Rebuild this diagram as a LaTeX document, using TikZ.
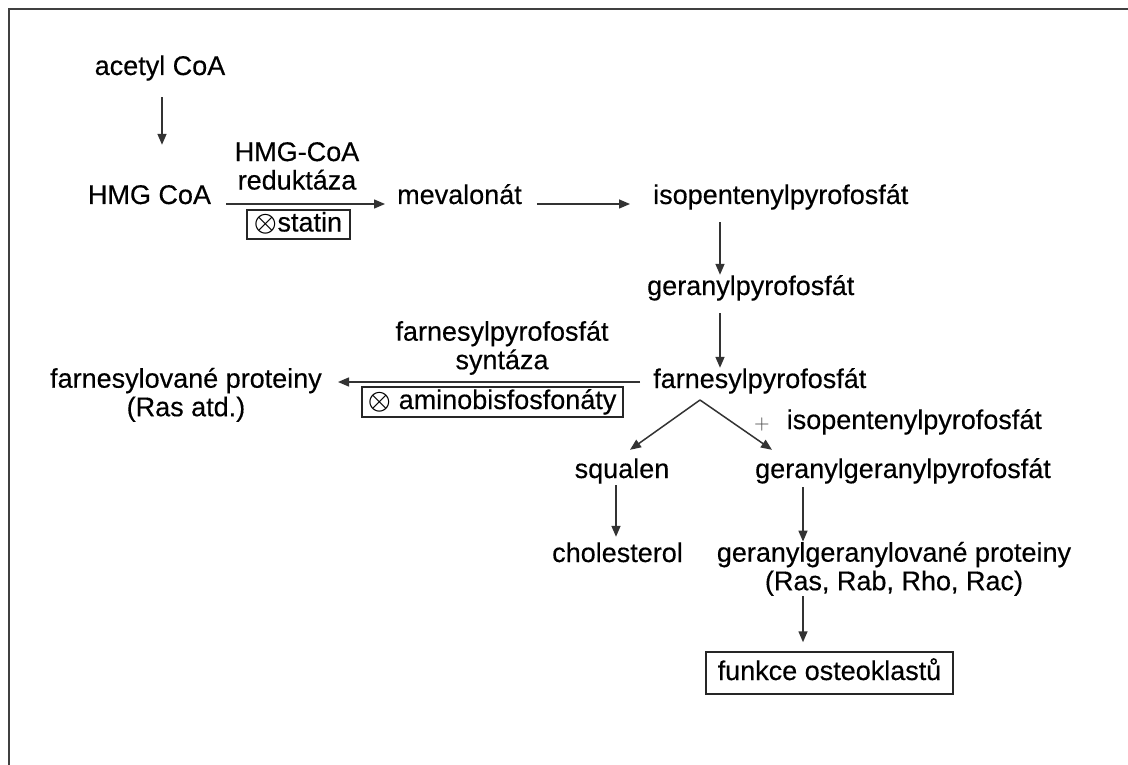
\documentclass[tikz,border=0pt]{standalone}
\usepackage{fontspec}
\setmainfont{Liberation Sans}[FakeBold=0.35]
\newfontfamily\lmmath{latinmodern-math.otf}
\newfontfamily\lmfont{lmroman10-regular.otf}
\usetikzlibrary{arrows.meta}
\begin{document}
\begin{tikzpicture}[x=1pt,y=-1pt,
  every node/.style={font=\fontsize{27}{28.5}\selectfont, inner sep=0pt},
  lbl/.style={text height=20pt,text depth=6pt},
  arr/.style={draw=black!80, line width=1.5pt, -{Triangle[length=11pt,width=9pt]}},
  box/.style={draw=black!85,line width=1.5pt, text height=20pt, text depth=6pt},
  twoline/.style={align=center},
  otimes/.style={}]
\useasboundingbox (0,0) rectangle (1128,765);
\draw[black!75,line width=2pt] (9,765) -- (9,9) -- (1128,9);

\node[lbl,anchor=base] (acetyl) at (160,75) {acetyl CoA};
\node[lbl,anchor=base] (hmg) at (149.5,204) {HMG CoA};
\node[twoline,anchor=south] (enz1) at (297,190) {HMG-CoA\\reduktáza};
\node[box,minimum width=103pt,minimum height=29pt] (statin) at (298.5,224.5) {{\lmmath\fontsize{29}{29}\selectfont ⊗}statin};
\node[lbl,anchor=base west] (meval) at (397,204) {mevalonát};
\node[lbl,anchor=base west] (ipp) at (653,204) {isopentenylpyrofosfát};
\node[lbl,anchor=base west] (gpp) at (647,295) {geranylpyrofosfát};
\node[lbl,anchor=base west] (fpp) at (653,388) {farnesylpyrofosfát};
\node[twoline,anchor=south] (enz2) at (502,375) {farnesylpyrofosfát\\syntáza};
\node[box,minimum width=261pt,minimum height=30pt] (abp) at (492.5,402) {{\lmmath\fontsize{29}{29}\selectfont ⊗} aminobisfosfonáty};
\node[twoline,anchor=south east] (farnprot) at (322,422) {farnesylované proteiny\\(Ras atd.)};
\node[anchor=base west] (ipp2) at (754,429) {{\lmfont\fontsize{20}{20}\selectfont\color{black!70}+}\hspace{17pt}isopentenylpyrofosfát};
\node[lbl,anchor=base] (sq) at (622,478) {squalen};
\node[lbl,anchor=base west] (ggpp) at (755,478) {geranylgeranylpyrofosfát};
\node[lbl,anchor=base] (chol) at (617.5,562) {cholesterol};
\node[twoline,anchor=south] (ggprot) at (894,596) {geranylgeranylované proteiny\\(Ras, Rab, Rho, Rac)};
\node[box,minimum width=247pt,minimum height=42pt] (fun) at (829.5,673) {funkce osteoklastů};

\coordinate (split) at ([xshift=47pt,yshift=-12pt]fpp.base west);

\draw[arr,shorten <=16pt,shorten >=39pt] ([xshift=2pt]acetyl.south) -- ([xshift=2pt]acetyl.south |- hmg.north);
\draw[arr,shorten <=15pt,shorten >=12pt] (hmg.base east) -- (meval.base west);
\draw[arr,shorten <=15pt,shorten >=23pt] (meval.base east) -- (ipp.base west);
\draw[arr,shorten <=12pt] ([xshift=67pt]ipp.south west) -- ([xshift=67pt]ipp.south west |- gpp.north);
\draw[arr,shorten <=12pt] ([xshift=73pt]gpp.south west) -- ([xshift=73pt]gpp.south west |- fpp.north);
\draw[arr,shorten <=13pt,shorten >=16pt] ([yshift=6pt]fpp.base west) -- ([yshift=6pt]fpp.base west -| farnprot.east);
\draw[arr] (split) -- ([xshift=8pt,yshift=8pt]sq.north);
\draw[arr] (split) -- ([xshift=17pt,yshift=8pt]ggpp.north west);
\draw[arr,shorten <=1pt,shorten >=5pt] ([xshift=-6pt]sq.south) -- ([xshift=-6pt]sq.south |- chol.north);
\draw[arr,shorten <=3pt] ([xshift=48pt]ggpp.south west) -- ([xshift=48pt]ggpp.south west |- ggprot.north);
\draw[arr,shorten >=9pt] ([xshift=-26.5pt]fun.north |- ggprot.south) -- ([xshift=-26.5pt]fun.north);
\end{tikzpicture}
\end{document}
